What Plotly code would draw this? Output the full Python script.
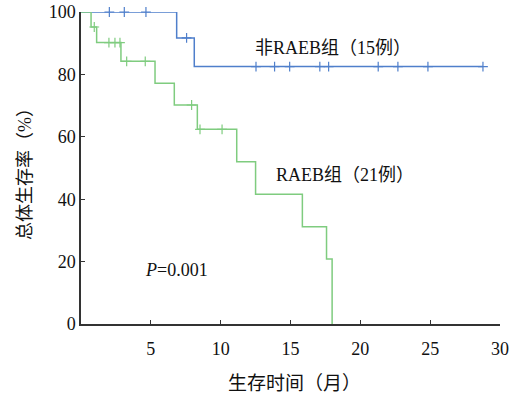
import plotly.graph_objects as go
import numpy as np

# Non-RAEB group (15 cases)
blue_times = [0, 6.85, 8.11]
blue_surv = [100, 91.7, 82.5]
blue_end = 28.78
blue_censor = [2.03, 3.1, 4.65, 7.56, 12.53, 13.86, 14.94, 17.1, 17.73, 21.28, 22.69, 24.84, 28.78]

# RAEB group (21 cases)
green_times = [0, 0.72, 1.12, 2.86, 5.3, 6.68, 8.33, 11.15, 12.5, 15.85, 17.58, 17.98]
green_surv = [100, 95.2, 90.2, 84.2, 77.2, 70.2, 62.4, 52.0, 41.6, 31.2, 20.8, 0]
green_end = 17.98
green_censor = [0.95, 2.0, 2.43, 2.79, 3.27, 4.6, 7.92, 8.52, 10.1]

x_ticks = [5, 10, 15, 20, 25, 30]
y_ticks = [0, 20, 40, 60, 80, 100]

BLUE = "#4F7FCB"
GREEN = "#7FCC7F"
FONT = "Liberation Serif, Times New Roman, Noto Sans CJK SC, serif"

W, H = 511, 396
ML, MR, MT, MB = 81, 11, 12, 72
PW, PH = W - ML - MR, H - MT - MB


def step_value(times, surv, t):
    idx = np.searchsorted(times, t, side="right") - 1
    return surv[idx]


def step_path(times, surv, end):
    xs = list(times) + [end]
    ys = list(surv) + [surv[-1]]
    return xs, ys


def px2paper(px, py):
    return (px - ML) / PW, 1 - (py - MT) / PH


fig = go.Figure()

for times, surv, end, cens, col in [
    (blue_times, blue_surv, blue_end, blue_censor, BLUE),
    (green_times, green_surv, green_end, green_censor, GREEN),
]:
    xs, ys = step_path(times, surv, end)
    fig.add_trace(go.Scatter(x=xs, y=ys, mode="lines", line=dict(color=col, width=1.5, shape="hv"),
                             cliponaxis=False, showlegend=False, hoverinfo="skip"))
    cy = [step_value(times, surv, t) for t in cens]
    fig.add_trace(go.Scatter(x=cens, y=cy, mode="markers",
                             marker=dict(symbol="cross-thin", size=7, line=dict(color=col, width=1.2)),
                             cliponaxis=False, showlegend=False, hoverinfo="skip"))

labels = [
    (333, 48, "非RAEB组（15例）", 18, 0),
    (345, 175, "RAEB组（21例）", 18, 0),
    (176, 270, "<i>P</i>=0.001", 18, 0),
    (294, 383, "生存时间（月）", 19, 0),
    (25, 170, "总体生存率（%）", 18, -90),
]
ann = []
for px, py, txt, sz, rot in labels:
    x, y = px2paper(px, py)
    ann.append(dict(x=x, y=y, xref="paper", yref="paper", text=txt, showarrow=False,
                    xanchor="center", yanchor="middle", textangle=rot, font=dict(size=sz)))

fig.update_layout(
    width=W, height=H,
    margin=dict(l=ML, r=MR, t=MT, b=MB, autoexpand=False),
    paper_bgcolor="white", plot_bgcolor="white",
    font=dict(family=FONT, size=17, color="#111"),
    xaxis=dict(range=[0, 30], tickvals=x_ticks, ticks="inside", ticklen=4, tickcolor="#333",
               showline=True, linecolor="#333", linewidth=1.5, showgrid=False, zeroline=False,
               tickfont=dict(size=18), ticklabelstandoff=8, automargin=False),
    yaxis=dict(range=[0, 100], tickvals=y_ticks, ticks="inside", ticklen=4, tickcolor="#333",
               showline=True, linecolor="#333", linewidth=1.5, showgrid=False, zeroline=False,
               tickfont=dict(size=18), ticksuffix="\u2002\u200a", automargin=False),
    annotations=ann,
)

fig.write_html("out.html")
